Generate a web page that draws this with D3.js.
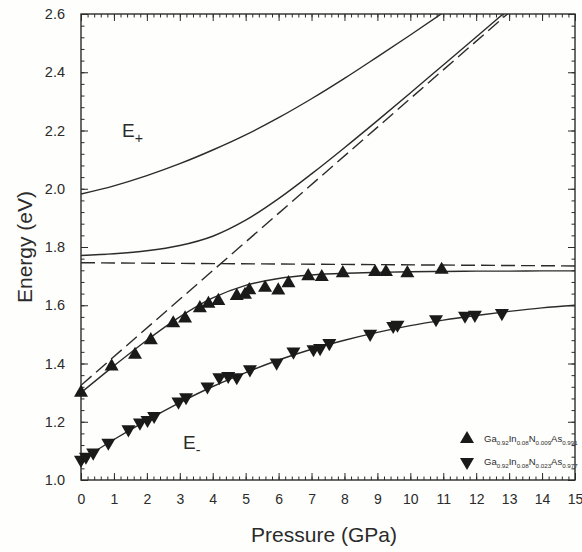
<!DOCTYPE html>
<html>
<head>
<meta charset="utf-8">
<script src="https://cdn.jsdelivr.net/npm/d3@7"></script>
<style>
  body { margin: 0; background: #fefefc; }
  svg { display: block; font-family: Arial, "Liberation Sans", sans-serif; }
</style>
</head>
<body>
<div id="chart"></div>
<script>
// fitted curves, read at each GPa
var curveP = [0, 1, 2, 3, 4, 5, 6, 7, 8, 9, 10, 11, 12, 13, 14, 15];
var lowerA = [1.300, 1.392, 1.480, 1.560, 1.625, 1.668, 1.692, 1.704, 1.710, 1.713, 1.715, 1.716, 1.717, 1.717, 1.718, 1.718];
var upperA = [1.771, 1.777, 1.787, 1.805, 1.837, 1.892, 1.966, 2.051, 2.141, 2.234, 2.329, 2.425, 2.521, 2.618, null, null];
var lowerB = [1.068, 1.139, 1.205, 1.266, 1.321, 1.369, 1.412, 1.449, 1.480, 1.507, 1.530, 1.549, 1.565, 1.579, 1.591, 1.600];
var upperB = [1.982, 2.010, 2.045, 2.086, 2.133, 2.185, 2.244, 2.309, 2.379, 2.453, 2.528, 2.605, 2.683, null, null, null];

// dashed reference levels (end points)
var emP = [0, 15];
var emE = [1.325, 2.802];
var enP = [0, 15];
var enE = [1.746, 1.735];

// measured points, sample A (N 0.009)
var ptsAP = [0, 0.93, 1.64, 2.12, 2.80, 3.16, 3.61, 3.87, 4.17, 4.73, 4.98, 5.11, 5.59, 5.99, 6.30, 6.90, 7.31, 7.95, 8.93, 9.26, 9.91, 10.95];
var ptsAE = [1.300, 1.390, 1.430, 1.480, 1.538, 1.555, 1.590, 1.605, 1.615, 1.632, 1.636, 1.652, 1.660, 1.651, 1.676, 1.700, 1.697, 1.710, 1.714, 1.714, 1.710, 1.722];

// measured points, sample B (N 0.023)
var ptsBP = [0, 0.15, 0.37, 0.83, 1.44, 1.79, 2.02, 2.22, 2.96, 3.19, 3.84, 4.20, 4.47, 4.73, 5.13, 5.94, 6.45, 7.06, 7.26, 7.54, 8.78, 9.48, 9.61, 10.78, 11.66, 11.96, 12.78];
var ptsBE = [1.069, 1.080, 1.094, 1.128, 1.174, 1.197, 1.206, 1.220, 1.269, 1.284, 1.321, 1.353, 1.357, 1.353, 1.380, 1.403, 1.441, 1.449, 1.453, 1.470, 1.502, 1.529, 1.533, 1.552, 1.564, 1.567, 1.573];

var xTicks = [0, 1, 2, 3, 4, 5, 6, 7, 8, 9, 10, 11, 12, 13, 14, 15];
var yTicks = [1.0, 1.2, 1.4, 1.6, 1.8, 2.0, 2.2, 2.4, 2.6];

var ink = '#2b2b2b';
var svgW = 582, svgH = 552;
var m = { left: 81, top: 14 };
var plotW = 494, plotH = 466;
var bottomY = m.top + plotH, rightX = m.left + plotW;

var svg = d3.select('#chart').append('svg')
    .attr('width', svgW)
    .attr('height', svgH);

var x = d3.scaleLinear().domain([0, 15]).range([m.left, rightX]);
var y = d3.scaleLinear().domain([1.0, 2.6]).range([bottomY, m.top]);

svg.append('defs').append('clipPath')
    .attr('id', 'plotclip')
    .append('rect')
    .attr('x', m.left).attr('y', m.top)
    .attr('width', plotW).attr('height', plotH);

// ticks, all pointing inward
function tickAxis (axis, pos) {
    var g = svg.append('g').attr('transform', pos);
    g.call(axis);
    g.select('.domain').remove();
    g.selectAll('line').attr('stroke', ink).attr('stroke-width', 1);
    return g;
}

var minorX = d3.range(0, 15.001, 0.2);
var minorY = d3.range(1.0, 2.6001, 0.04);

tickAxis(d3.axisBottom(x).tickValues(minorX).tickSize(-3.5).tickFormat(''), 'translate(0,' + bottomY + ')');
tickAxis(d3.axisTop(x).tickValues(minorX).tickSize(-3.5).tickFormat(''), 'translate(0,' + m.top + ')');
tickAxis(d3.axisLeft(y).tickValues(minorY).tickSize(-3.5).tickFormat(''), 'translate(' + m.left + ',0)');
tickAxis(d3.axisRight(y).tickValues(minorY).tickSize(-3.5).tickFormat(''), 'translate(' + rightX + ',0)');

var bx = tickAxis(d3.axisBottom(x).tickValues(xTicks).tickSize(-7).tickPadding(14).tickFormat(d3.format('d')), 'translate(0,' + bottomY + ')');
tickAxis(d3.axisTop(x).tickValues(xTicks).tickSize(-7).tickFormat(''), 'translate(0,' + m.top + ')');
var ly = tickAxis(d3.axisLeft(y).tickValues(yTicks).tickSize(-7).tickPadding(16).tickFormat(d3.format('.1f')), 'translate(' + m.left + ',0)');
tickAxis(d3.axisRight(y).tickValues(yTicks).tickSize(-7).tickFormat(''), 'translate(' + rightX + ',0)');

bx.selectAll('text').attr('font-size', 14).attr('fill', ink).attr('font-family', 'Arial, "Liberation Sans", sans-serif');
ly.selectAll('text').attr('font-size', 14.5).attr('fill', ink).attr('font-family', 'Arial, "Liberation Sans", sans-serif');

svg.append('rect')
    .attr('x', m.left).attr('y', m.top)
    .attr('width', plotW).attr('height', plotH)
    .attr('fill', 'none')
    .attr('stroke', ink)
    .attr('stroke-width', 1.4);

// curves
var plot = svg.append('g').attr('clip-path', 'url(#plotclip)');

var line = d3.line()
    .defined(function (d) { return d[1] !== null; })
    .x(function (d) { return x(d[0]); })
    .y(function (d) { return y(d[1]); })
    .curve(d3.curveCatmullRom);

function pairs (ps, es) {
    return ps.map(function (p, i) { return [p, es[i]]; });
}

[lowerA, upperA, lowerB, upperB].forEach(function (es) {
    plot.append('path')
        .attr('d', line(pairs(curveP, es)))
        .attr('fill', 'none')
        .attr('stroke', ink)
        .attr('stroke-width', 1.4);
});

[[emP, emE], [enP, enE]].forEach(function (s) {
    plot.append('path')
        .attr('d', line.curve(d3.curveLinear)(pairs(s[0], s[1])))
        .attr('fill', 'none')
        .attr('stroke', ink)
        .attr('stroke-width', 1.4)
        .attr('stroke-dasharray', '14,6');
});

var triUp = d3.symbol().type(d3.symbolTriangle).size(85);

svg.append('g').selectAll('path')
    .data(pairs(ptsAP, ptsAE))
    .enter()
    .append('path')
    .attr('d', triUp)
    .attr('transform', function (d) { return 'translate(' + x(d[0]) + ',' + y(d[1]) + ')'; })
    .attr('fill', '#1a1a1a');

svg.append('g').selectAll('path')
    .data(pairs(ptsBP, ptsBE))
    .enter()
    .append('path')
    .attr('d', triUp)
    .attr('transform', function (d) { return 'translate(' + x(d[0]) + ',' + y(d[1]) + ') rotate(180)'; })
    .attr('fill', '#1a1a1a');

// band labels
function subLabel (px, py, main, sub, size) {
    var t = svg.append('text')
        .attr('x', px).attr('y', py)
        .attr('font-size', size)
        .attr('fill', ink);
    t.append('tspan').text(main);
    t.append('tspan').attr('font-size', size * 0.75).attr('dy', size * 0.3).text(sub);
}

subLabel(122, 137, 'E', '+', 19);
subLabel(183, 449, 'E', '-', 19);

// legend
var legendRows = [
    { up: true, parts: [['Ga', '0.92'], ['In', '0.08'], ['N', '0.009'], ['As', '0.991']] },
    { up: false, parts: [['Ga', '0.92'], ['In', '0.08'], ['N', '0.023'], ['As', '0.977']] }
];

legendRows.forEach(function (row, i) {
    var ly0 = 439 + i * 23;
    svg.append('path')
        .attr('d', triUp)
        .attr('transform', 'translate(467,' + ly0 + ')' + (row.up ? '' : ' rotate(180)'))
        .attr('fill', '#1a1a1a');
    var t = svg.append('text')
        .attr('x', 484).attr('y', ly0 + 3)
        .attr('font-size', 9.5)
        .attr('fill', ink);
    row.parts.forEach(function (p, k) {
        t.append('tspan').attr('dy', k === 0 ? 0 : -3).text(p[0]);
        t.append('tspan').attr('font-size', 6.2).attr('dy', 3).text(p[1]);
    });
});

// axis titles
svg.append('text')
    .attr('x', m.left + plotW / 2 - 4)
    .attr('y', 542)
    .attr('text-anchor', 'middle')
    .attr('font-size', 21)
    .attr('fill', ink)
    .text('Pressure (GPa)');

svg.append('text')
    .attr('transform', 'translate(32,' + (m.top + plotH / 2) + ') rotate(-90)')
    .attr('text-anchor', 'middle')
    .attr('font-size', 21)
    .attr('fill', ink)
    .text('Energy (eV)');
</script>
</body>
</html>
